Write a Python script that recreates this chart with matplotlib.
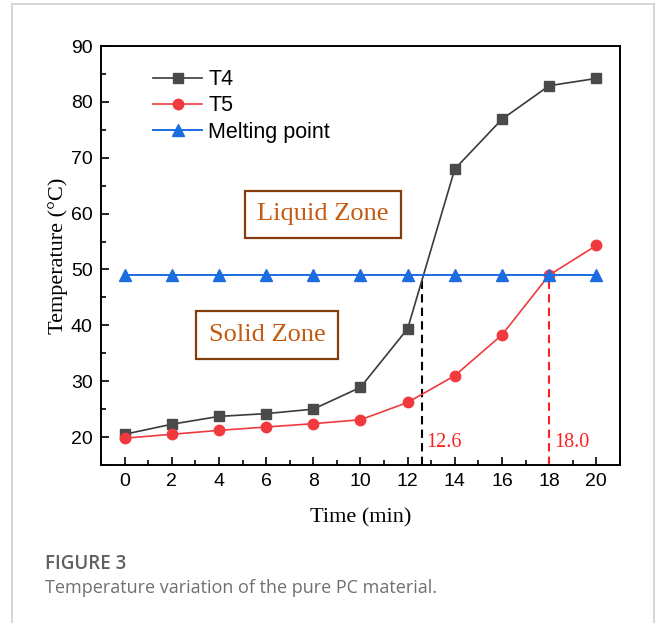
import numpy as np
import matplotlib
matplotlib.use("Agg")
import matplotlib.pyplot as plt
from matplotlib.lines import Line2D
from matplotlib.ticker import MultipleLocator

# measured temperatures of the pure PC sample
time_min = [0, 2, 4, 6, 8, 10, 12, 14, 16, 18, 20]
t4 = [20.5, 22.3, 23.7, 24.2, 25.0, 28.9, 39.4, 68.0, 76.9, 82.9, 84.2]
t5 = [19.8, 20.5, 21.2, 21.8, 22.4, 23.1, 26.2, 31.0, 38.3, 49.0, 54.3]
melting_point = 49.0
melt_times = [12.6, 18.0]
melt_colors = ["black", "#ff2020"]

serif = ["Liberation Serif", "DejaVu Serif"]
sans = ["Liberation Sans", "DejaVu Sans"]

fig = plt.figure(figsize=(6.56, 6.23), dpi=100)
ax = fig.add_axes([0.154, 0.2536, 0.791, 0.6725])

ax.plot(time_min, t4, color="#3a3a3a", lw=1.2, marker="s", ms=6.5,
        mfc="#4a4a4a", mec="#4a4a4a", label="T4", zorder=3)
ax.plot(time_min, t5, color="#f03a3e", lw=1.2, marker="o", ms=7.5,
        mfc="#f03a3e", mec="#f03a3e", label="T5", zorder=3)
ax.plot(time_min, [melting_point] * len(time_min), color="#1c6ee0", lw=1.4,
        marker="^", ms=8, mfc="#1c6ee0", mec="#1c6ee0",
        label="Melting point", zorder=3)

# drop lines from the melting point to the time axis
for tm, c in zip(melt_times, melt_colors):
    ax.plot([tm, tm], [15, melting_point], ls=(0, (4, 2.5)), color=c, lw=1.5, zorder=2)
    ax.text(tm + 0.2, 19.0, f"{tm:.1f}", color="#ff2020", fontsize=14.5,
            family=serif, ha="left", va="center")

ax.set_xlim(-1, 21)
ax.set_ylim(15, 90)
ax.xaxis.set_major_locator(MultipleLocator(2))
ax.xaxis.set_minor_locator(MultipleLocator(1))
ax.yaxis.set_major_locator(MultipleLocator(10))
ax.yaxis.set_minor_locator(MultipleLocator(5))
ax.set_yticks([20, 30, 40, 50, 60, 70, 80, 90])
ax.tick_params(which="both", direction="in", top=False, right=False,
               width=1.2, labelsize=14)
ax.tick_params(which="major", length=6, pad=6)
ax.tick_params(which="minor", length=3.5)
for lab in ax.get_xticklabels() + ax.get_yticklabels():
    lab.set_family(sans)
for sp in ax.spines.values():
    sp.set_linewidth(1.4)

ax.set_xlabel("Time (min)", family=serif, fontsize=16, labelpad=13)
ax.set_ylabel("Temperature (\u00b0C)", family=serif, fontsize=16, labelpad=2)

zone_box = dict(boxstyle="square,pad=0.48", fc="white", ec="#843c0c", lw=1.6)
ax.text(8.41, 59.9, "Liquid Zone", color="#c55a11", fontsize=19, family=serif,
        ha="center", va="center", bbox=zone_box)
ax.text(6.05, 38.3, "Solid Zone", color="#c55a11", fontsize=19, family=serif,
        ha="center", va="center", bbox=zone_box)

leg = ax.legend(loc="upper left", bbox_to_anchor=(0.1, 0.945), frameon=False,
                prop={"family": sans, "size": 15.5}, handlelength=2.3,
                handletextpad=0.28, labelspacing=0.25, borderaxespad=0,
                borderpad=0)

# page frame and caption
fig.add_artist(Line2D([12 / 656, 654 / 656], [1 - 4 / 623, 1 - 4 / 623],
                      color="#d0d0d0", lw=1.2))
fig.add_artist(Line2D([12 / 656, 12 / 656], [0, 1 - 4 / 623],
                      color="#d0d0d0", lw=1.2))
fig.add_artist(Line2D([654 / 656, 654 / 656], [0, 1 - 4 / 623],
                      color="#d0d0d0", lw=1.2))
fig.text(45 / 656, 1 - 564 / 623, "FIGURE 3", color="#606060", fontsize=13.5,
         family="Open Sans", weight="semibold", va="center")
fig.text(45 / 656, 1 - 588 / 623, "Temperature variation of the pure PC material.",
         color="#707070", fontsize=13, family="Open Sans", va="center")

fig.savefig("out.png", dpi=100)
